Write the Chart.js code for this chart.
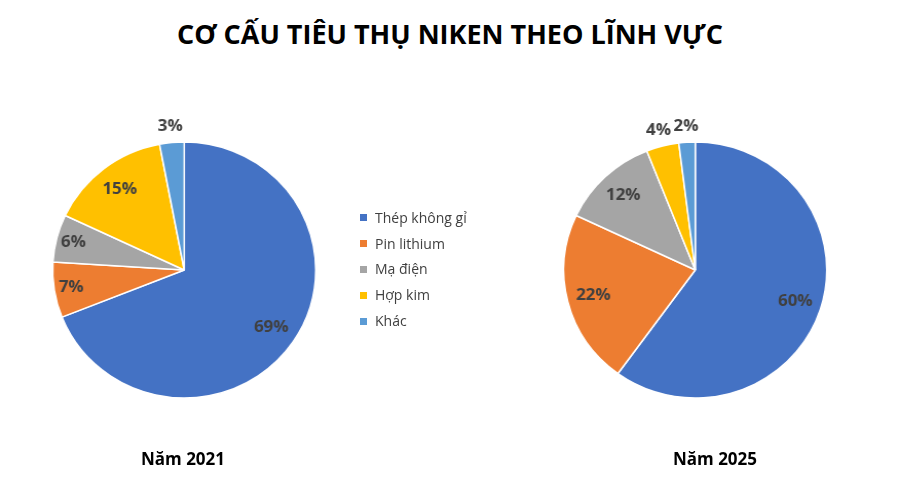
<!DOCTYPE html>
<html>
<head>
<meta charset="utf-8">
<script src="https://cdn.jsdelivr.net/npm/chart.js@4"></script>
<style>
  html, body { margin:0; padding:0; background:#fff; }
  #wrap { position:relative; width:900px; height:500px; overflow:hidden; font-family:"Open Sans", sans-serif; }
  canvas.pie { position:absolute; left:0; top:0; transform-origin:0 0; transform:scale(1.0274, 1); }
  #title { position:absolute; left:0; top:15px; width:900px; text-align:center; font-weight:700; font-size:27px; color:#000; }
  .cap { position:absolute; top:447px; width:200px; text-align:center; font-weight:700; font-size:17px; color:#000; }
  #legend { position:absolute; left:360px; top:205px; font-size:14px; color:#404040; }
  #legend .row { height:25.8px; line-height:20px; display:flex; align-items:center; }
  #legend .sw { width:7px; height:7px; margin-right:8px; }
</style>
</head>
<body>
<div id="wrap">
  <div id="title">CƠ CẤU TIÊU THỤ NIKEN THEO LĨNH VỰC</div>
  <canvas id="c1" class="pie" width="876" height="500"></canvas>
  <canvas id="c2" class="pie" width="876" height="500"></canvas>
  <div id="legend"></div>
  <div class="cap" id="cap1" style="left:83px;"></div>
  <div class="cap" id="cap2" style="left:615px;"></div>
</div>
<script>
const categories = ["Thép không gỉ", "Pin lithium", "Mạ điện", "Hợp kim", "Khác"];
const values2021 = [69, 7, 6, 15, 3];
const values2025 = [60, 22, 12, 4, 2];
const captions = ["Năm 2021", "Năm 2025"];
const colors = ["#4472C4", "#ED7D31", "#A5A5A5", "#FFC000", "#5B9BD5"];

document.getElementById('cap1').textContent = captions[0];
document.getElementById('cap2').textContent = captions[1];

const lg = document.getElementById('legend');
categories.forEach((c, i) => {
  const r = document.createElement('div'); r.className = 'row';
  const s = document.createElement('div'); s.className = 'sw'; s.style.background = colors[i];
  const t = document.createElement('span'); t.textContent = c;
  r.appendChild(s); r.appendChild(t); lg.appendChild(r);
});

const labelPlugin = {
  id: 'pctLabels',
  afterDatasetsDraw(chart) {
    const ctx = chart.ctx;
    const meta = chart.getDatasetMeta(0);
    const data = chart.data.datasets[0].data;
    ctx.save();
    ctx.font = 'bold 16.5px "Open Sans", sans-serif';
    ctx.fillStyle = '#404040';
    ctx.textAlign = 'center';
    ctx.textBaseline = 'middle';
    meta.data.forEach((arc, i) => {
      const p = arc.getProps(['x', 'y', 'startAngle', 'endAngle', 'outerRadius'], true);
      const mid = (p.startAngle + p.endAngle) / 2;
      const v = data[i];
      let r;
      if (v < 5) r = p.outerRadius + 16;
      else if (v < 10) r = p.outerRadius * 0.87;
      else r = p.outerRadius * 0.8;
      ctx.fillText(v + '%', p.x + Math.cos(mid) * r, p.y + Math.sin(mid) * r);
    });
    ctx.restore();
  }
};

function makePie(id, values, pad) {
  return new Chart(document.getElementById(id), {
    type: 'pie',
    data: {
      labels: categories,
      datasets: [{ data: values, backgroundColor: colors, borderColor: '#ffffff', borderWidth: 1.5 }]
    },
    options: {
      responsive: false,
      animation: false,
      layout: { padding: pad },
      plugins: { legend: { display: false }, tooltip: { enabled: false } }
    },
    plugins: [labelPlugin]
  });
}

makePie('c1', values2021, { left: 50.55, right: 567.95, top: 141.25, bottom: 101.25 });
makePie('c2', values2025, { left: 547.95, right: 70.55, top: 141.25, bottom: 101.25 });
</script>
</body>
</html>
